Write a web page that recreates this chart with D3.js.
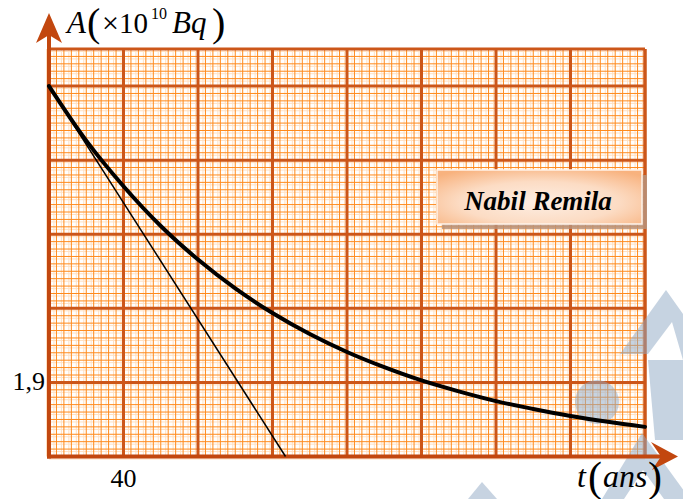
<!DOCTYPE html>
<html>
<head>
<meta charset="utf-8">
<script src="https://cdn.jsdelivr.net/npm/d3@7"></script>
<style>
  html, body { margin: 0; padding: 0; background: #ffffff; }
  svg { display: block; }
  text { font-family: "Liberation Serif", "DejaVu Serif", "Tinos", "Noto Serif", "FreeSerif", "Times New Roman", Times, serif; }
</style>
</head>
<body>
<svg id="chart" width="683" height="499"></svg>
<script>
// years
const years = [0, 20, 40, 60, 80, 100, 120, 140, 160, 180, 200, 220, 240, 260, 280, 300, 320];
// activity A (x 10^10 Bq)
const activity = [9.5, 8.1, 6.93, 5.91, 5.05, 4.31, 3.68, 3.14, 2.68, 2.29, 1.95, 1.67, 1.42, 1.22, 1.04, 0.89, 0.76];
// tangent at t = 0
const tangentYears = [0, 127];
const tangentActivity = [9.5, 0];

const xTickValues = [40];
const xTickLabels = ["40"];
const yTickValues = [1.9];
const yTickLabels = ["1,9"];

const X_MAX = 320;      // 8 big squares of 40 years
const Y_MAX = 10.45;    // 5.5 big squares of 1.9
const X_MAJOR = 40, X_MINOR = 4;
const Y_MAJOR = 1.9, Y_MINOR = 0.19;

const axisColor = "#c2470f";
const majorColor = "#cc5619";
const minorColor = "#ff8a1c";
const paleColor = "#ffe0c2";

function drawChart() {
  const svg = d3.select("#chart");
  const left = 49, right = 645, top = 49, bottom = 456.5;

  const x = d3.scaleLinear().domain([0, X_MAX]).range([left, right]);
  const y = d3.scaleLinear().domain([0, Y_MAX]).range([bottom, top]);

  svg.append("rect").attr("width", 683).attr("height", 499).attr("fill", "#fff");

  const grid = svg.append("g");
  const xMinor = d3.range(0, X_MAX + 0.001, X_MINOR);
  const yMinor = d3.range(0, Y_MAX + 0.001, Y_MINOR);

  // pale doubled line next to each small line (printed paper look)
  grid.selectAll(".vp").data(xMinor).enter().append("line")
    .attr("x1", d => x(d) - 2.5).attr("x2", d => x(d) - 2.5)
    .attr("y1", top).attr("y2", bottom)
    .attr("stroke", paleColor).attr("stroke-width", 1);
  grid.selectAll(".hp").data(yMinor).enter().append("line")
    .attr("y1", d => y(d) + 2.5).attr("y2", d => y(d) + 2.5)
    .attr("x1", left).attr("x2", right)
    .attr("stroke", paleColor).attr("stroke-width", 1);

  grid.selectAll(".vm").data(xMinor).enter().append("line")
    .attr("x1", d => x(d)).attr("x2", d => x(d))
    .attr("y1", top).attr("y2", bottom)
    .attr("stroke", minorColor).attr("stroke-width", 1);
  grid.selectAll(".hm").data(yMinor).enter().append("line")
    .attr("y1", d => y(d)).attr("y2", d => y(d))
    .attr("x1", left).attr("x2", right)
    .attr("stroke", minorColor).attr("stroke-width", 1);

  grid.selectAll(".vM").data(d3.range(0, X_MAX + 0.001, X_MAJOR)).enter().append("line")
    .attr("x1", d => x(d)).attr("x2", d => x(d))
    .attr("y1", top).attr("y2", bottom)
    .attr("stroke", majorColor).attr("stroke-width", 3);
  grid.selectAll(".hM").data(d3.range(0, Y_MAX, Y_MAJOR)).enter().append("line")
    .attr("y1", d => y(d)).attr("y2", d => y(d))
    .attr("x1", left).attr("x2", right)
    .attr("stroke", majorColor).attr("stroke-width", 3);

  // frame
  grid.append("line").attr("x1", left).attr("x2", right).attr("y1", top).attr("y2", top)
    .attr("stroke", majorColor).attr("stroke-width", 3);
  grid.append("line").attr("x1", right).attr("x2", right).attr("y1", top).attr("y2", bottom)
    .attr("stroke", majorColor).attr("stroke-width", 3);

  // watermark shapes
  const wm = svg.append("g").attr("fill", "#8fa8c4").attr("opacity", 0.5);
  wm.append("path").attr("d", "M666,290 L700,338 L700,360 L683,360 L672,322 L648,354 L620,354 Z");
  wm.append("path").attr("d", "M648,360 L683,360 L683,440 L655,440 Z");
  wm.append("path").attr("d", "M642,433 L690,499 L664,499 L643,470 L624,499 L602,499 Z");
  wm.append("path").attr("d", "M482,482 L497,499 L468,499 Z");
  wm.append("circle").attr("cx", 597).attr("cy", 402).attr("r", 22);

  // axes with arrows
  svg.append("line").attr("x1", left).attr("x2", left).attr("y1", bottom + 2).attr("y2", 32)
    .attr("stroke", axisColor).attr("stroke-width", 4);
  svg.append("line").attr("x1", left - 2).attr("x2", 664).attr("y1", bottom).attr("y2", bottom)
    .attr("stroke", axisColor).attr("stroke-width", 4);
  svg.append("path").attr("d", `M${left},13 L62,43 L${left},35 L36,43 Z`).attr("fill", axisColor);
  svg.append("path").attr("d", `M678,${bottom} L651,442 L661,${bottom} L652,470 Z`).attr("fill", axisColor);

  // curve and tangent
  const line = d3.line().x(d => x(d[0])).y(d => y(d[1]));
  svg.append("path")
    .datum(d3.zip(tangentYears, tangentActivity))
    .attr("d", line)
    .attr("fill", "none").attr("stroke", "#000").attr("stroke-width", 1.5);
  svg.append("path")
    .datum(d3.zip(years, activity))
    .attr("d", line.curve(d3.curveMonotoneX))
    .attr("fill", "none").attr("stroke", "#000").attr("stroke-width", 4)
    .attr("stroke-linecap", "round");

  // name box
  const defs = svg.append("defs");
  const grad = defs.append("radialGradient").attr("id", "boxGrad")
    .attr("cx", "50%").attr("cy", "60%").attr("r", "70%");
  grad.append("stop").attr("offset", "0%").attr("stop-color", "#fdeee3");
  grad.append("stop").attr("offset", "55%").attr("stop-color", "#fcdcc4");
  grad.append("stop").attr("offset", "100%").attr("stop-color", "#f8b27e");
  svg.append("rect").attr("x", 442).attr("y", 175).attr("width", 205).attr("height", 54)
    .attr("fill", "#b8927a").attr("opacity", 0.85);
  svg.append("rect").attr("x", 437).attr("y", 170).attr("width", 205).attr("height", 54)
    .attr("fill", "url(#boxGrad)").attr("stroke", "#fff3ea").attr("stroke-width", 1.5);
  svg.append("text").attr("x", 538).attr("y", 210).attr("text-anchor", "middle")
    .attr("font-style", "italic").attr("font-weight", "bold").attr("font-size", 27)
    .text("Nabil Remila");

  // tick labels
  svg.selectAll(".xl").data(xTickValues).enter().append("text")
    .attr("x", d => x(d)).attr("y", 487).attr("text-anchor", "middle")
    .attr("font-size", 26)
    .text((d, i) => xTickLabels[i]);
  svg.selectAll(".yl").data(yTickValues).enter().append("text")
    .attr("x", 45).attr("y", d => y(d) + 8).attr("text-anchor", "end")
    .attr("font-size", 26)
    .text((d, i) => yTickLabels[i]);

  // axis titles, pieces placed one by one like the equation editor does
  const yt = svg.append("text").attr("y", 33).attr("font-size", 31);
  yt.append("tspan").attr("x", 67).attr("font-style", "italic").text("A");
  yt.append("tspan").attr("x", 87).attr("font-size", 40).attr("dy", 3).text("(");
  yt.append("tspan").attr("x", 102).attr("dy", -3).attr("font-size", 30).text("×");
  yt.append("tspan").attr("x", 119).attr("font-size", 29).text("10");
  yt.append("tspan").attr("x", 151).attr("font-size", 16).attr("dy", -14).text("10");
  yt.append("tspan").attr("x", 172).attr("font-style", "italic").attr("dy", 14).text("Bq");
  yt.append("tspan").attr("x", 212).attr("font-size", 40).attr("dy", 3).text(")");

  const xt = svg.append("text").attr("y", 487).attr("font-size", 32);
  xt.append("tspan").attr("x", 577).attr("font-style", "italic").text("t");
  xt.append("tspan").attr("x", 588).attr("font-size", 42).attr("dy", 4).text("(");
  xt.append("tspan").attr("x", 603).attr("font-style", "italic").attr("dy", -4).text("ans");
  xt.append("tspan").attr("x", 648).attr("font-size", 42).attr("dy", 4).text(")");
}

drawChart();
</script>
</body>
</html>
